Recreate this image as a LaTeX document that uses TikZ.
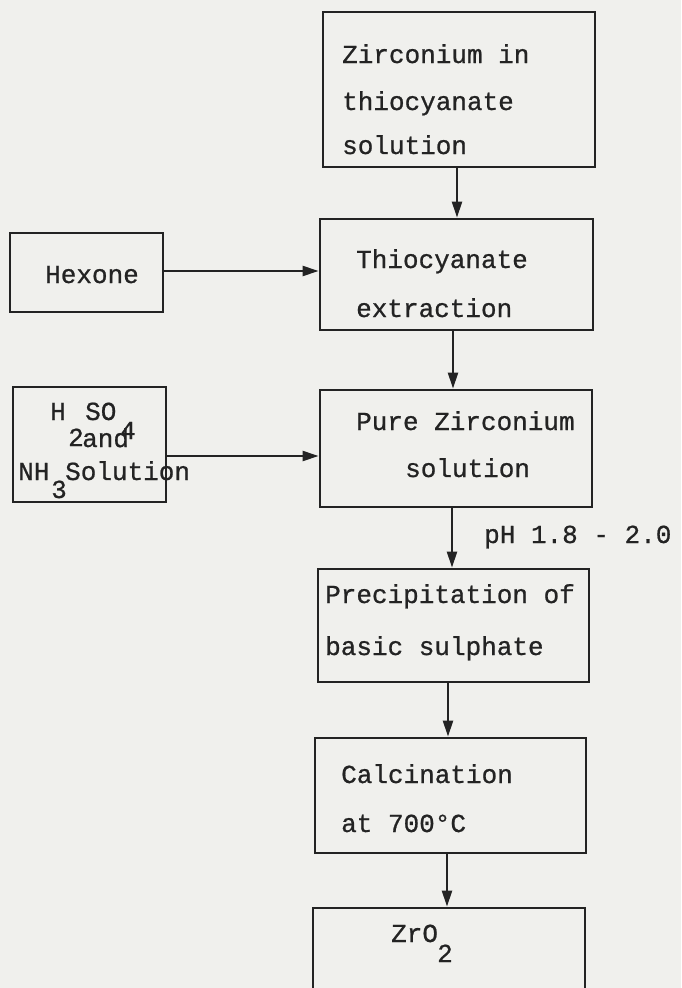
\documentclass[tikz,border=0pt]{standalone}
\usepackage{fontspec}
\setmainfont{Liberation Mono}
\newfontfamily\tw{Liberation Mono}[FakeBold=0.8]
\usetikzlibrary{arrows.meta}
\definecolor{paper}{RGB}{240,240,237}
\definecolor{ink}{RGB}{35,35,35}
\begin{document}
\begin{tikzpicture}[x=1pt,y=-1pt,
  box/.style={draw=ink, line width=2.8pt, rectangle, inner sep=0pt},
  txt/.style={anchor=base west, inner sep=0pt, text=ink, font=\tw\fontsize{26}{30}\selectfont},
  arr/.style={draw=ink, line width=2.3pt, -{Triangle[length=16pt,width=10pt]}}]
\useasboundingbox[fill=paper] (0,0) rectangle (681,988);
\clip (0,0) rectangle (681,988);
% boxes
\node[box, minimum width=272pt, minimum height=155pt] (b1) at (459,89.5) {};
\node[box, minimum width=273pt, minimum height=111pt] (b2) at (456.5,274.5) {};
\node[box, minimum width=272pt, minimum height=117pt] (b3) at (456,448.5) {};
\node[box, minimum width=271pt, minimum height=113pt] (b4) at (453.5,625.5) {};
\node[box, minimum width=271pt, minimum height=115pt] (b5) at (450.5,795.5) {};
\node[box, minimum width=272pt, minimum height=140pt] (b6) at (449,978) {};
\node[box, minimum width=153pt, minimum height=79pt] (hex) at (86.5,272.5) {};
\node[box, minimum width=153pt, minimum height=115pt] (acid) at (89.5,444.5) {};
% texts
\node[txt] (t1a) at (342,63) {Zirconium in};
\node[txt] (t1b) at (342,110) {thiocyanate};
\node[txt] (t1c) at (342,154) {solution};
\node[txt] (t2a) at (356,268) {Thiocyanate};
\node[txt] (t2b) at (356,317) {extraction};
\node[txt] (t3a) at (356,430) {Pure Zirconium};
\node[txt] (t3b) at (405,477) {solution};
\node[txt] (t4a) at (325,603) {Precipitation of};
\node[txt] (t4b) at (325,655) {basic sulphate};
\node[txt] (t5a) at (341,783) {Calcination};
\node[txt] (t5b) at (341,832) {at 700°C};
\node[txt] (t6a) at (391,942) {ZrO};
\node[txt] (t6b) at (437,962) {2};
\node[txt] (th) at (45,283) {Hexone};
\node[txt] (ta1) at (50,420) {H};
\node[txt] (ta2) at (68,446) {2};
\node[txt] (ta3) at (85,420) {SO};
\node[txt] (ta4) at (120,439) {4};
\node[txt] (ta5) at (82,447) {and};
\node[txt] (ta6) at (18,480) {NH};
\node[txt] (ta7) at (51,498) {3};
\node[txt] (ta8) at (65,480) {Solution};
\node[txt] (tph) at (484,543) {pH 1.8 - 2.0};
% connectors
\draw[arr] ([xshift=-2pt]b1.south) coordinate (a1) -- (a1 |- b2.north);
\draw[arr] ([xshift=-3.5pt]b2.south) coordinate (a2) -- (a2 |- b3.north);
\draw[arr] ([xshift=-4pt]b3.south) coordinate (a3) -- (a3 |- b4.north);
\draw[arr] ([xshift=-5.5pt]b4.south) coordinate (a4) -- (a4 |- b5.north);
\draw[arr] ([xshift=-3.5pt]b5.south) coordinate (a5) -- (a5 |- b6.north);
\draw[arr] ([yshift=1.5pt]hex.east) coordinate (h1) -- (h1 -| b2.west);
\draw[arr] ([yshift=-11.5pt]acid.east) coordinate (h2) -- (h2 -| b3.west);
\end{tikzpicture}
\end{document}
